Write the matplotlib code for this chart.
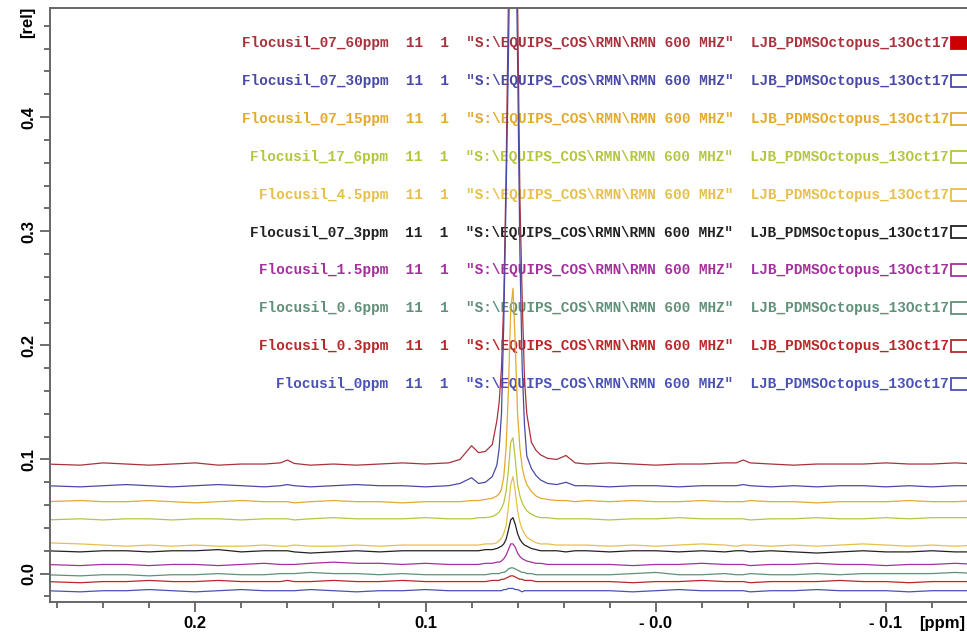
import matplotlib
matplotlib.use("Agg")
import matplotlib.pyplot as plt
from matplotlib.patches import Rectangle
from matplotlib.ticker import MultipleLocator

# chemical shift grid (ppm), shared by all spectra
ppm = [0.265, 0.25, 0.24, 0.23, 0.22, 0.21, 0.20, 0.19, 0.18, 0.17,
       0.163, 0.16, 0.157, 0.15, 0.14, 0.13, 0.12, 0.11, 0.10, 0.09,
       0.085, 0.080, 0.077, 0.074, 0.071, 0.069, 0.068, 0.067, 0.066, 0.065,
       0.064, 0.063, 0.062, 0.061, 0.060, 0.059, 0.058, 0.057, 0.056, 0.054,
       0.052, 0.050, 0.047, 0.043, 0.039, 0.035,
       0.03, 0.02, 0.01, 0.00, -0.01, -0.02, -0.03, -0.035, -0.038, -0.041,
       -0.05, -0.06, -0.07, -0.08, -0.09, -0.10, -0.11, -0.12, -0.13, -0.14]

# stacked intensities [rel]
s_60 = [0.096, 0.095, 0.097, 0.096, 0.095, 0.096, 0.097, 0.095, 0.096, 0.096,
        0.097, 0.0995, 0.0965, 0.095, 0.096, 0.095, 0.096, 0.097, 0.096, 0.097,
        0.100, 0.112, 0.106, 0.107, 0.113, 0.134, 0.150, 0.180, 0.240, 0.350,
        0.500, 0.800, 0.900, 0.800, 0.500, 0.330, 0.240, 0.170, 0.140, 0.115,
        0.108, 0.104, 0.101, 0.100, 0.1035, 0.097,
        0.096, 0.097, 0.096, 0.095, 0.096, 0.096, 0.097, 0.097, 0.0995, 0.097,
        0.096, 0.095, 0.096, 0.096, 0.096, 0.097, 0.096, 0.096, 0.097, 0.096]
s_30 = [0.077, 0.076, 0.077, 0.078, 0.077, 0.076, 0.077, 0.078, 0.077, 0.076,
        0.077, 0.078, 0.077, 0.076, 0.077, 0.078, 0.077, 0.077, 0.076, 0.077,
        0.079, 0.084, 0.079, 0.080, 0.085, 0.095, 0.110, 0.140, 0.220, 0.330,
        0.450, 0.600, 0.650, 0.600, 0.450, 0.280, 0.180, 0.130, 0.103, 0.092,
        0.086, 0.082, 0.079, 0.078, 0.080, 0.077,
        0.077, 0.076, 0.077, 0.077, 0.076, 0.077, 0.077, 0.077, 0.078, 0.077,
        0.076, 0.077, 0.076, 0.077, 0.077, 0.076, 0.077, 0.076, 0.077, 0.077]
s_15 = [0.063, 0.064, 0.063, 0.063, 0.064, 0.063, 0.062, 0.063, 0.064, 0.063,
        0.063, 0.063, 0.062, 0.063, 0.064, 0.063, 0.063, 0.062, 0.063, 0.063,
        0.063, 0.064, 0.064, 0.065, 0.066, 0.068, 0.070, 0.074, 0.085, 0.110,
        0.160, 0.230, 0.250, 0.200, 0.140, 0.110, 0.093, 0.084, 0.078, 0.072,
        0.068, 0.066, 0.065, 0.064, 0.064, 0.063,
        0.064, 0.063, 0.064, 0.063, 0.063, 0.064, 0.063, 0.063, 0.063, 0.064,
        0.063, 0.063, 0.062, 0.063, 0.063, 0.063, 0.064, 0.063, 0.063, 0.064]
s_6 = [0.047, 0.048, 0.047, 0.048, 0.048, 0.047, 0.048, 0.048, 0.047, 0.048,
       0.048, 0.048, 0.047, 0.048, 0.049, 0.048, 0.048, 0.048, 0.049, 0.048,
       0.048, 0.048, 0.049, 0.049, 0.050, 0.052, 0.054, 0.057, 0.062, 0.072,
       0.090, 0.115, 0.119, 0.100, 0.078, 0.068, 0.062, 0.058, 0.055, 0.052,
       0.050, 0.049, 0.049, 0.048, 0.048, 0.048,
       0.048, 0.047, 0.048, 0.048, 0.049, 0.048, 0.048, 0.048, 0.048, 0.047,
       0.048, 0.048, 0.049, 0.048, 0.048, 0.049, 0.048, 0.049, 0.049, 0.049]
s_4_5 = [0.027, 0.026, 0.025, 0.024, 0.025, 0.024, 0.025, 0.024, 0.024, 0.025,
         0.024, 0.024, 0.025, 0.024, 0.024, 0.025, 0.024, 0.025, 0.025, 0.025,
         0.025, 0.025, 0.025, 0.026, 0.026, 0.027, 0.029, 0.031, 0.035, 0.042,
         0.058, 0.078, 0.085, 0.072, 0.055, 0.045, 0.039, 0.035, 0.032, 0.029,
         0.027, 0.026, 0.026, 0.025, 0.025, 0.025,
         0.025, 0.024, 0.025, 0.024, 0.025, 0.026, 0.025, 0.024, 0.025, 0.025,
         0.024, 0.025, 0.024, 0.025, 0.026, 0.025, 0.024, 0.025, 0.024, 0.025]
s_3 = [0.020, 0.019, 0.020, 0.020, 0.019, 0.020, 0.020, 0.021, 0.019, 0.020,
       0.020, 0.020, 0.019, 0.018, 0.019, 0.020, 0.019, 0.020, 0.020, 0.020,
       0.020, 0.020, 0.020, 0.021, 0.021, 0.022, 0.023, 0.024, 0.026, 0.030,
       0.038, 0.047, 0.049, 0.043, 0.035, 0.030, 0.027, 0.025, 0.024, 0.022,
       0.021, 0.020, 0.020, 0.020, 0.019, 0.020,
       0.020, 0.019, 0.020, 0.020, 0.019, 0.020, 0.019, 0.020, 0.020, 0.019,
       0.020, 0.019, 0.018, 0.019, 0.020, 0.019, 0.019, 0.020, 0.019, 0.019]
s_1_5 = [0.008, 0.007, 0.008, 0.008, 0.007, 0.008, 0.008, 0.007, 0.008, 0.009,
         0.008, 0.008, 0.008, 0.009, 0.010, 0.009, 0.009, 0.008, 0.009, 0.008,
         0.008, 0.008, 0.008, 0.009, 0.009, 0.010, 0.010, 0.011, 0.013, 0.016,
         0.021, 0.026, 0.026, 0.023, 0.018, 0.015, 0.013, 0.012, 0.011, 0.010,
         0.009, 0.009, 0.008, 0.008, 0.008, 0.008,
         0.008, 0.008, 0.007, 0.008, 0.008, 0.009, 0.008, 0.008, 0.008, 0.007,
         0.008, 0.008, 0.009, 0.008, 0.008, 0.007, 0.008, 0.008, 0.009, 0.008]
s_0_6 = [-0.001, -0.002, -0.001, -0.001, -0.002, -0.001, -0.001, 0.000, -0.001, -0.001,
         0.000, 0.000, 0.000, 0.001, 0.000, 0.000, -0.001, 0.000, -0.001, -0.001,
         -0.001, -0.001, -0.001, -0.001, 0.000, 0.000, 0.000, 0.001, 0.001, 0.002,
         0.004, 0.005, 0.005, 0.004, 0.003, 0.002, 0.001, 0.001, 0.000, 0.000,
         -0.001, -0.001, -0.001, -0.001, -0.001, -0.001,
         -0.001, -0.001, 0.000, 0.001, -0.001, -0.001, 0.000, -0.001, -0.001, 0.000,
         -0.001, -0.001, 0.000, -0.001, 0.000, 0.000, 0.000, 0.000, 0.001, 0.000]
s_0_3 = [-0.007, -0.008, -0.007, -0.007, -0.006, -0.007, -0.007, -0.006, -0.007, -0.007,
         -0.007, -0.006, -0.007, -0.007, -0.006, -0.007, -0.007, -0.006, -0.007, -0.007,
         -0.007, -0.007, -0.007, -0.007, -0.006, -0.006, -0.006, -0.005, -0.005, -0.004,
         -0.003, -0.002, -0.002, -0.003, -0.004, -0.005, -0.005, -0.006, -0.006, -0.006,
         -0.007, -0.007, -0.007, -0.007, -0.007, -0.007,
         -0.007, -0.007, -0.008, -0.007, -0.007, -0.006, -0.007, -0.007, -0.007, -0.008,
         -0.007, -0.007, -0.007, -0.006, -0.007, -0.007, -0.008, -0.007, -0.007, -0.007]
s_0 = [-0.015, -0.016, -0.015, -0.015, -0.014, -0.015, -0.016, -0.015, -0.014, -0.015,
       -0.015, -0.015, -0.015, -0.014, -0.015, -0.016, -0.015, -0.015, -0.014, -0.015,
       -0.015, -0.015, -0.015, -0.015, -0.015, -0.015, -0.015, -0.015, -0.014, -0.014,
       -0.013, -0.013, -0.013, -0.014, -0.014, -0.015, -0.016, -0.015, -0.015, -0.015,
       -0.015, -0.015, -0.015, -0.015, -0.015, -0.015,
       -0.015, -0.015, -0.016, -0.015, -0.014, -0.015, -0.015, -0.015, -0.015, -0.016,
       -0.015, -0.015, -0.014, -0.015, -0.015, -0.015, -0.016, -0.015, -0.015, -0.015]

spectra = [s_60, s_30, s_15, s_6, s_4_5, s_3, s_1_5, s_0_6, s_0_3, s_0]
names = ["Flocusil_07_60ppm", "Flocusil_07_30ppm", "Flocusil_07_15ppm",
         "Flocusil_17_6ppm", "Flocusil_4.5ppm", "Flocusil_07_3ppm",
         "Flocusil_1.5ppm", "Flocusil_0.6ppm", "Flocusil_0.3ppm", "Flocusil_0ppm"]
colors = ["#a8323c", "#4a4aa6", "#e2aa2e", "#b4c63e", "#e6c04a",
          "#222222", "#a4309c", "#5f9078", "#b8282a", "#4a52b8"]
expno = "11"
procno = "1"
path = '"S:\\EQUIPS_COS\\RMN\\RMN 600 MHZ"'
user = "LJB_PDMSOctopus_13Oct17"

x_ticks = [0.2, 0.1, 0.0, -0.1]
x_labels = ["0.2", "0.1", "- 0.0", "- 0.1"]
y_ticks = [0.0, 0.1, 0.2, 0.3, 0.4]
y_labels = ["0.0", "0.1", "0.2", "0.3", "0.4"]

W, H = 967, 634
fig = plt.figure(figsize=(W / 100, H / 100), dpi=100)
ax = fig.add_axes([50 / W, 1 - 602 / H, (W - 50) / W, (602 - 8) / H])

for y, c in zip(spectra, colors):
    ax.plot(ppm, y, color=c, linewidth=0.9)

ax.set_xlim(0.2631, -0.1352)
ax.set_ylim(-0.0249, 0.4956)

ax.set_xticks(x_ticks)
ax.set_xticklabels(x_labels)
ax.set_yticks(y_ticks)
ax.set_yticklabels(y_labels, rotation=90, va="center")
ax.xaxis.set_minor_locator(MultipleLocator(0.02))
ax.yaxis.set_minor_locator(MultipleLocator(0.02))

sans = ["Liberation Sans", "DejaVu Sans"]
for lab in ax.get_xticklabels() + ax.get_yticklabels():
    lab.set_family(sans)
    lab.set_weight("bold")
    lab.set_size(12)
ax.tick_params(which="major", direction="out", length=7, width=1.2,
               color="#555555", pad=3)
ax.tick_params(which="minor", direction="out", length=4.5, width=1.2,
               color="#555555")

for side in ["left", "bottom", "top"]:
    ax.spines[side].set_color("#666666")
    ax.spines[side].set_linewidth(1.4)
ax.spines["right"].set_visible(False)

ax.text(-0.024, 0.976, "[rel]", transform=ax.transAxes, rotation=90,
        ha="center", va="center", family=sans, weight="bold", size=12)
ax.text(0.9727, -0.036, "[ppm]", transform=ax.transAxes, ha="center",
        va="center", family=sans, weight="bold", size=12)

# title block (one line per spectrum, right aligned)
for i, (name, c) in enumerate(zip(names, colors)):
    row_px = 43 + 37.9 * i
    ya = (602 - row_px) / 594
    line = f"{name}  {expno}  {procno}  {path}  {user}"
    ax.text((949 - 50) / 917, ya, line, transform=ax.transAxes,
            ha="right", va="center", color=c,
            family=["Liberation Mono", "DejaVu Sans Mono"], weight="bold",
            size=10.35, zorder=1)
    box = Rectangle(((951 - 50) / 917, ya - 6 / 594), 0.04, 12 / 594,
                    transform=ax.transAxes, clip_on=False, linewidth=1.3,
                    edgecolor=c if i else "#cc0000",
                    facecolor="#cc0000" if i == 0 else "white")
    ax.add_patch(box)

fig.savefig("out.png", dpi=100)
